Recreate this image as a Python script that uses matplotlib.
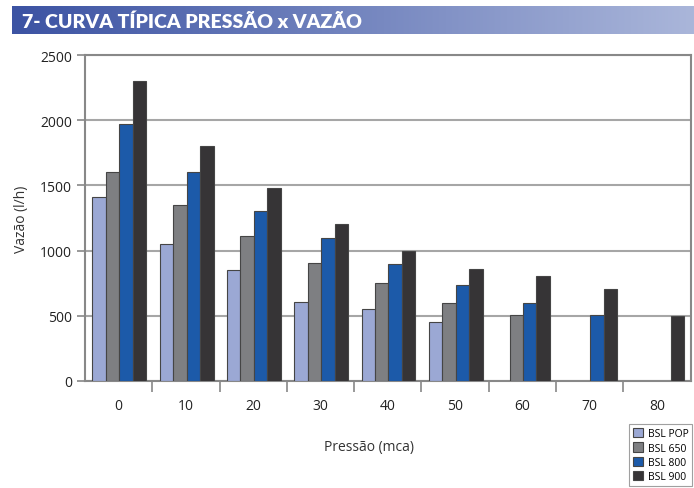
import matplotlib
matplotlib.use("Agg")
import matplotlib.pyplot as plt
import numpy as np
from matplotlib.colors import LinearSegmentedColormap

plt.rcParams["font.family"] = ["Open Sans", "DejaVu Sans"]

# data (0 = no bar drawn)
pressures = ["0", "10", "20", "30", "40", "50", "60", "70", "80"]
series_names = ["BSL POP", "BSL 650", "BSL 800", "BSL 900"]
bsl_pop = [1410, 1050, 855, 605, 555, 455, 0, 0, 0]
bsl_650 = [1600, 1350, 1110, 905, 755, 600, 505, 0, 0]
bsl_800 = [1970, 1600, 1305, 1100, 900, 735, 600, 505, 0]
bsl_900 = [2300, 1800, 1480, 1205, 1000, 860, 805, 705, 500]
y_ticks = [0, 500, 1000, 1500, 2000, 2500]

colors = ["#9ba8d4", "#7e7f82", "#1c5aa9", "#363436"]
title = "7- CURVA TÍPICA PRESSÃO x VAZÃO"

W, H = 694, 489
fig = plt.figure(figsize=(W / 100, H / 100), dpi=100)

# title banner with blue gradient
bax = fig.add_axes([12 / W, 1 - 35 / H, (W - 12) / W, 28 / H])
cmap = LinearSegmentedColormap.from_list("banner", ["#3c53a3", "#aab6da"])
bax.imshow(np.linspace(0, 1, 256)[None, :], aspect="auto", cmap=cmap,
           extent=[0, 1, 0, 1])
bax.set_axis_off()
bax.text(10 / (W - 12), 0.45, title, color="white", fontweight="heavy",
         fontsize=14, va="center", ha="left",
         family=["Lato", "DejaVu Sans"])

ax = fig.add_axes([85 / W, 1 - 382 / H, 605.5 / W, 326 / H])
x = np.arange(len(pressures))
width = 0.2
for i, (name, vals) in enumerate(zip(series_names, [bsl_pop, bsl_650, bsl_800, bsl_900])):
    vals = np.array(vals, dtype=float)
    vals[vals == 0] = np.nan
    ax.bar(x + (i - 1.5) * width + 0.01, vals, width, color=colors[i],
           edgecolor="#454545", linewidth=0.8, label=name, zorder=3)

ax.set_xlim(-0.5, len(pressures) - 0.5)
ax.set_ylim(0, 2500)
ax.set_yticks(y_ticks)
ax.set_xticks(x)
ax.set_xticklabels(pressures)
ax.set_xticks(np.arange(0.5, len(pressures) - 1, 1), minor=True)
ax.tick_params(axis="x", which="major", length=0, pad=12, labelsize=10, labelcolor="#222222")
ax.tick_params(axis="x", which="minor", length=8, color="#888888", width=1.2)
ax.tick_params(axis="y", length=6, color="#888888", width=1.2, labelsize=10, labelcolor="#222222")
ax.grid(axis="y", color="#a6a6a6", linewidth=1.5, zorder=0)
for s in ax.spines.values():
    s.set_color("#888888")
    s.set_linewidth(1.5)

fig.text(369 / W, 1 - 447 / H, "Pressão (mca)", ha="center", va="center",
         fontsize=10, color="#333333")
fig.text(22 / W, 1 - 219 / H, "Vazão (l/h)", ha="center", va="center",
         rotation=90, fontsize=10, color="#333333")

leg = ax.legend(loc="lower right", bbox_to_anchor=(692 / W, 1 - 487 / H),
                bbox_transform=fig.transFigure, fontsize=7.5, frameon=True,
                fancybox=False, edgecolor="#888888", handlelength=1.0,
                handleheight=1.0, handletextpad=0.4, borderpad=0.35,
                labelspacing=0.3, borderaxespad=0)
leg.get_frame().set_linewidth(0.8)

fig.savefig("out.png", dpi=100, facecolor="white")
